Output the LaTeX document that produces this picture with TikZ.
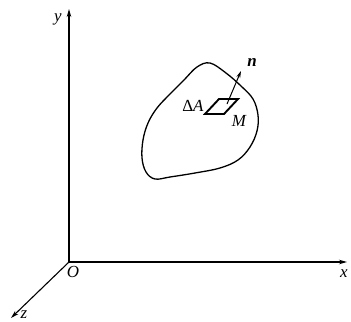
\documentclass[tikz,border=0pt]{standalone}
\usepackage{fontspec}
\setmainfont{Liberation Serif}
\usetikzlibrary{arrows.meta}
\begin{document}
\begin{tikzpicture}[x=1bp,y=-1bp,
  axis/.style={line width=1.1bp,-{Stealth[length=8bp,width=4.5bp]}},
  lbl/.style={font=\fontsize{17}{19}\selectfont\itshape,inner sep=0pt},
  blob/.style={line width=1.3bp},
  patch/.style={line width=1.9bp,line join=miter},
  normal/.style={line width=1bp,-{Stealth[length=7bp,width=4bp]}}]
\useasboundingbox (0,0) rectangle (351,322);
\coordinate (O) at (69,262);
\coordinate (xe) at (347,262);
\coordinate (ye) at (69,9);
\coordinate (ze) at (11,318);
\draw[axis] (O) -- (xe);
\draw[axis] (O) -- (ye);
\draw[axis] (O) -- (ze);
\node[lbl] (ly) at (58,19) {y};
\node[lbl] (lx) at (344,274) {x};
\node[lbl] (lO) at (73,272) {O};
\node[lbl] (lz) at (24,315) {z};
\draw[blob] plot[smooth cycle,tension=0.6] coordinates {
  (210,63) (226,73) (241,86) (253,99) (258,115) (257,131) (250,147)
  (238,160) (220,168) (195,173) (170,177) (155,179) (146,172) (142,158)
  (143,140) (148,123) (157,108) (170,94) (184,80) (197,67)};
\coordinate (p1) at (205,114);
\coordinate (p2) at (219,99);
\coordinate (p3) at (238,99);
\coordinate (p4) at (224,114);
\draw[patch] (p1) -- (p2) -- (p3) -- (p4) -- cycle;
\coordinate (nb) at (227,104);
\coordinate (nt) at (241,71);
\draw[normal] (nb) -- (nt);
\node[lbl] (ln) at (252,63) {\bfseries n};
\node[lbl,font=\fontsize{17}{19}\selectfont] (lA) at (193,106) {Δ\textit{A}};
\node[lbl] (lM) at (239,121) {M};
\end{tikzpicture}
\end{document}
